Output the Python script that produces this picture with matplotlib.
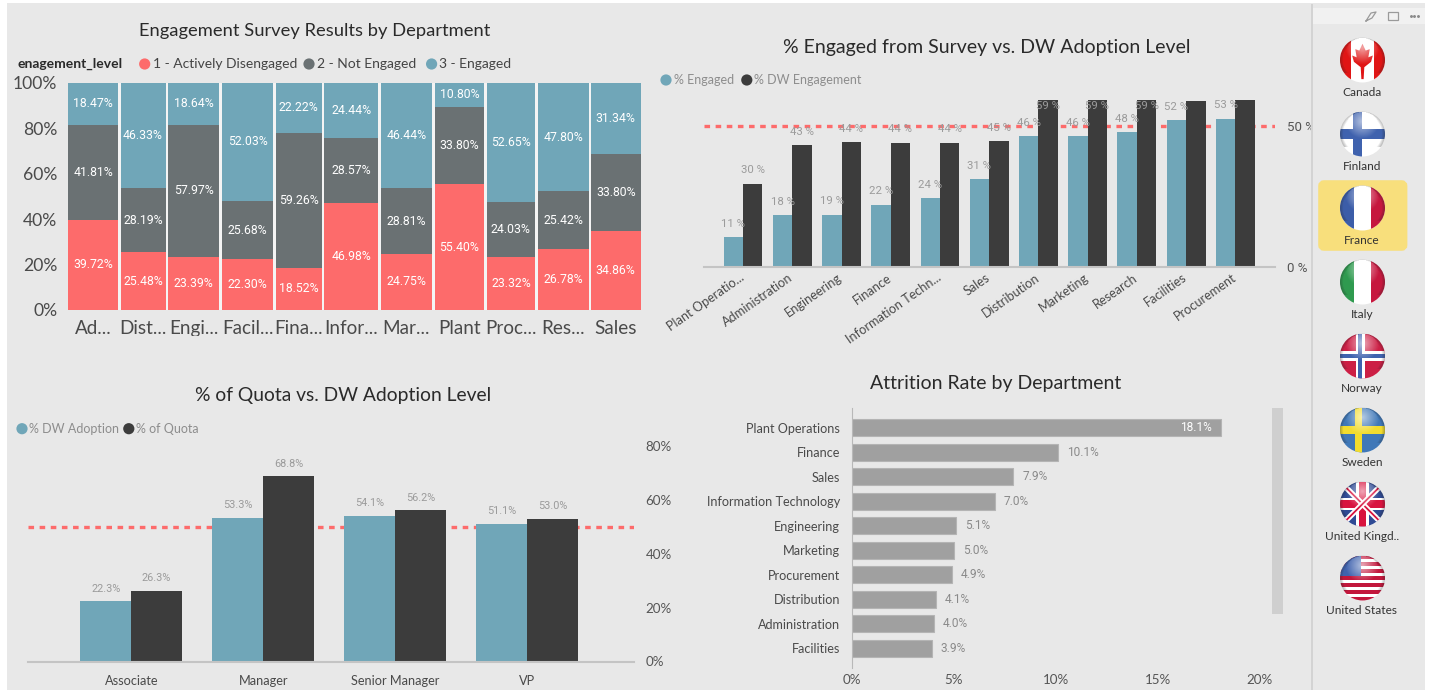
# Engagement / adoption dashboard, four charts plus the country slicer on the right

import numpy as np
import matplotlib
matplotlib.use("Agg")
import matplotlib.pyplot as plt
from matplotlib.patches import Circle, Rectangle, FancyBboxPatch, Polygon
from matplotlib.transforms import ScaledTranslation

W, H = 1429, 690

# Chart 1 data
survey_labels = ["Ad...", "Dist...", "Engi...", "Facil...", "Fina...", "Infor...",
                 "Mar...", "Plant", "Proc...", "Res...", "Sales"]
survey_widths = [49.7, 45.0, 51.5, 51.4, 46.0, 54.2, 51.4, 49.7, 48.5, 51.0, 49.5]
actively_disengaged = [39.72, 25.48, 23.39, 22.30, 18.52, 46.98, 24.75, 55.40, 23.32, 26.78, 34.86]
not_engaged = [41.81, 28.19, 57.97, 25.68, 59.26, 28.57, 28.81, 33.80, 24.03, 25.42, 33.80]
engaged = [18.47, 46.33, 18.64, 52.03, 22.22, 24.44, 46.44, 10.80, 52.65, 47.80, 31.34]

# Chart 2 data
adoption_depts = ["Plant Operatio...", "Administration", "Engineering", "Finance",
                  "Information Techn...", "Sales", "Distribution", "Marketing",
                  "Research", "Facilities", "Procurement"]
pct_engaged = [10.8, 18.47, 18.64, 22.22, 24.44, 31.34, 46.33, 46.44, 47.8, 52.03, 52.65]
pct_dw_engagement = [29.6, 43.2, 44.4, 44.1, 44.1, 44.6, 59.2, 59.2, 59.2, 58.7, 59.7]

# Chart 3 data
levels = ["Associate", "Manager", "Senior Manager", "VP"]
dw_adoption = [22.3, 53.3, 54.1, 51.1]
pct_quota = [26.3, 68.8, 56.2, 53.0]

# Chart 4 data
attrition_depts = ["Plant Operations", "Finance", "Sales", "Information Technology",
                   "Engineering", "Marketing", "Procurement", "Distribution",
                   "Administration", "Facilities"]
attrition = [18.1, 10.1, 7.9, 7.0, 5.1, 5.0, 4.9, 4.1, 4.0, 3.9]

countries = ["Canada", "Finland", "France", "Italy", "Norway", "Sweden",
             "United Kingd..", "United States"]

BG = "#e8e8e8"
RED = "#fd6b6b"
SLATE = "#6a7173"
TEAL = "#70a6b8"
DARK = "#3c3c3c"
GRAY = "#a0a0a0"
LABEL = "#9b9b9b"
TITLE_FONT = ["Lato", "DejaVu Sans"]
NUM_FONT = ["Roboto", "DejaVu Sans"]

plt.rcParams["font.family"] = TITLE_FONT

fig = plt.figure(figsize=(W / 100, H / 100), dpi=100, facecolor="white")


def px_axes(left, top, right, bottom, **kw):
    # axes placed by pixel edges, origin at top left of the image
    ax = fig.add_axes([left / W, 1 - bottom / H, (right - left) / W, (bottom - top) / H], **kw)
    ax.patch.set_alpha(0)
    for s in ax.spines.values():
        s.set_visible(False)
    return ax


# Background panel
back = px_axes(0, 0, W, H)
back.set_xlim(0, W)
back.set_ylim(H, 0)
back.axis("off")
back.add_patch(Rectangle((7, 3), 1418, 687, fc=BG, ec="none"))


# Chart 1, stacked columns with varying widths
ax1 = px_axes(68.4, 82.7, 640.5, 310)
gap = 2.4
edges = np.concatenate([[0], np.cumsum(np.array(survey_widths) + gap)[:-1]])
total = edges[-1] + survey_widths[-1]
ax1.patch.set_alpha(1)
ax1.patch.set_facecolor("#f4f4f4")
bottom = np.zeros(len(edges))
for vals, col in [(actively_disengaged, RED), (not_engaged, SLATE), (engaged, TEAL)]:
    ax1.bar(edges, vals, width=survey_widths, bottom=bottom, align="edge", color=col, lw=0)
    for x, w, b, v in zip(edges, survey_widths, bottom, vals):
        ax1.text(x + w / 2, b + v / 2, f"{v:.2f}%", color="white", ha="center", va="center",
                 fontsize=8.8, family=NUM_FONT)
    bottom = bottom + np.array(vals)
ax1.set_xlim(0, total)
ax1.set_ylim(0, 100)
ax1.set_xticks(edges + np.array(survey_widths) / 2, survey_labels)
ax1.set_yticks(range(0, 101, 20), [f"{v}%" for v in range(0, 101, 20)])
ax1.tick_params(length=0, labelcolor="#4a4a4a")
ax1.tick_params(axis="x", pad=7, labelsize=13.6)
ax1.tick_params(axis="y", pad=8, labelsize=12.6)

# Chart 2, engaged vs DW engagement
ax2 = px_axes(703.9, 100, 1275, 267.3)
y2 = np.arange(len(adoption_depts))
bw = 0.395
ax2.axhline(50, color=RED, ls=(0, (1.67, 1.67)), lw=2.4, zorder=1)
ax2.bar(y2 - bw / 2, pct_engaged, bw, color=TEAL, zorder=2)
ax2.bar(y2 + bw / 2, pct_dw_engagement, bw, color=DARK, zorder=2)
ax2.set_xlim(-0.795, 10.805)
ax2.set_ylim(0, 59.2)
for x, v in zip(y2 - bw / 2, pct_engaged):
    ax2.annotate(f"{v:.0f} %", (x, v), xytext=(0, 9.5), textcoords="offset points", ha="center",
                 va="center", color=LABEL, fontsize=8.2, family=NUM_FONT, zorder=5,
                 annotation_clip=False)
for x, v in zip(y2 + bw / 2, pct_dw_engagement):
    if v > 58.5:
        # no room above the tallest bars, the labels sink into them
        if x < 9:
            ax2.text(x, 57.2, f"{v:.0f} %", ha="center", va="center", color=LABEL, fontsize=8.2,
                     family=NUM_FONT, zorder=5)
        continue
    ax2.annotate(f"{v:.0f} %", (x, v), xytext=(0, 9.5), textcoords="offset points", ha="center",
                 va="center", color=LABEL, fontsize=8.2, family=NUM_FONT, zorder=5)
ax2.set_xticks(y2, adoption_depts, rotation=35, ha="right", va="top", rotation_mode="anchor",
               fontsize=9.2, color="#4a4a4a")
ax2.tick_params(axis="x", length=0, pad=3)
shift = ScaledTranslation(-4 / 100, 0, fig.dpi_scale_trans)
for lab in ax2.get_xticklabels():
    lab.set_transform(lab.get_transform() + shift)
ax2.yaxis.tick_right()
ax2.set_yticks([0, 50], ["0 %", "50 %"], family=NUM_FONT, fontsize=9.5, color="#555555")
ax2.tick_params(axis="y", length=0, pad=8.5)
ax2.spines["bottom"].set_visible(True)
ax2.spines["bottom"].set_color("#c4c4c4")
ax2.spines["bottom"].set_linewidth(1.5)

# Chart 3, DW adoption vs quota
ax3 = px_axes(28, 446, 634.4, 661.5)
y3 = np.arange(len(levels))
bw3 = 0.385
ax3.axhline(50, color=RED, ls=(0, (1.67, 1.67)), lw=2.4, zorder=1)
ax3.bar(y3 - bw3 / 2, dw_adoption, bw3, color=TEAL, zorder=2)
ax3.bar(y3 + bw3 / 2, pct_quota, bw3, color=DARK, zorder=2)
for x, v in zip(np.concatenate([y3 - bw3 / 2, y3 + bw3 / 2]), dw_adoption + pct_quota):
    ax3.annotate(f"{v:.1f}%", (x, v), xytext=(0, 9), textcoords="offset points", ha="center",
                 va="center", color=LABEL, fontsize=7.8, family=NUM_FONT)
ax3.set_xlim(-0.782, 3.812)
ax3.set_ylim(0, 80)
ax3.set_xticks(y3, levels, fontsize=9.2, color="#4a4a4a")
ax3.tick_params(axis="x", length=0, pad=10)
ax3.yaxis.tick_right()
ax3.set_yticks(range(0, 81, 20), [f"{v}%" for v in range(0, 81, 20)], fontsize=9.6, color="#555555")
ax3.tick_params(axis="y", length=0, pad=8)
ax3.spines["bottom"].set_visible(True)
ax3.spines["bottom"].set_color("#c4c4c4")
ax3.spines["bottom"].set_linewidth(1.5)

# Chart 4, attrition
ax4 = px_axes(852, 408, 1259.8, 668)
rows = np.arange(len(attrition_depts))
ax4.barh(rows, attrition, height=0.7, color=GRAY, edgecolor="#b4b4b4", linewidth=0.8)
ax4.set_ylim(rows[-1] + 0.8, -0.8)
ax4.set_xlim(0, 20)
for r, v in zip(rows, attrition):
    if v > 15:
        ax4.annotate(f"{v}%", (v, r), xytext=(-6.5, 0), textcoords="offset points", ha="right",
                     va="center", color="white", fontsize=8.6, family=NUM_FONT)
    else:
        ax4.annotate(f"{v}%", (v, r), xytext=(6.5, 0), textcoords="offset points", ha="left",
                     va="center", color="#8a8a8a", fontsize=8.6, family=NUM_FONT)
ax4.set_yticks(rows, attrition_depts, fontsize=9.1, color="#4a4a4a")
ax4.set_xticks(range(0, 21, 5), [f"{v}%" for v in range(0, 21, 5)], fontsize=9.6, color="#555555")
ax4.tick_params(length=0)
ax4.tick_params(axis="y", pad=8.5)
ax4.tick_params(axis="x", pad=4)
ax4.spines["left"].set_visible(True)
ax4.spines["left"].set_color("#b8b8b8")


# Everything else goes on a pixel overlay
top = px_axes(0, 0, W, H, zorder=10)
top.set_xlim(0, W)
top.set_ylim(H, 0)
top.axis("off")

# cuts off the descenders of chart 1's tick labels like the original crop
top.add_patch(Rectangle((60, 336), 590, 10, fc=BG, ec="none"))

for txt, x, y, size in [("Engagement Survey Results by Department", 315, 31, 13.2),
                        ("% Engaged from Survey vs. DW Adoption Level", 987, 48, 14),
                        ("% of Quota vs. DW Adoption Level", 343, 396, 13.9),
                        ("Attrition Rate by Department", 996, 383, 14)]:
    top.text(x, y, txt, ha="center", va="center", fontsize=size, color="#2a2a2a")

top.text(18, 64, "enagement_level", ha="left", va="center", fontsize=10, fontweight="bold",
         color="#2a2a2a")


def legend_item(x, y, col, txt, tx, color="#444444", size=10):
    top.add_patch(Circle((x, y), 5.6, fc=col, ec="none"))
    top.text(tx, y, txt, ha="left", va="center", fontsize=size, color=color)


legend_item(144.7, 64, RED, "1 - Actively Disengaged", 152.6)
legend_item(309, 64, SLATE, "2 - Not Engaged", 316.8)
legend_item(431.6, 64, TEAL, "3 - Engaged", 438.6)
legend_item(666, 80, TEAL, "% Engaged", 673.6, "#8d8d8d", 9)
legend_item(746.8, 80, DARK, "% DW Engagement", 754, "#8d8d8d", 9)
legend_item(22, 428.7, TEAL, "% DW Adoption", 29.5, "#8d8d8d", 9)
legend_item(128.8, 428.7, DARK, "% of Quota", 135.7, "#8d8d8d", 9)

# Scroll bar of the attrition chart
top.add_patch(Rectangle((1272, 408), 11.5, 205.7, fc="#cfcfcf", ec="none"))

# Slicer panel
top.add_patch(Rectangle((1312, 4), 113, 686, fc="#e8e8e8", ec="none"))
top.add_patch(Rectangle((1311.5, 4), 1.6, 686, fc="#d3d3d3", ec="none"))
top.add_patch(Rectangle((1313, 8), 112, 16, fc="#f1f1f1", ec="none"))
top.add_patch(FancyBboxPatch((1321, 183), 83.6, 65, boxstyle="round,pad=0,rounding_size=3",
                             fc="#f8df7c", ec="#f8df7c", lw=4))
# header icons: pin, focus, more
top.plot([1366, 1371, 1376, 1372, 1366], [21, 13, 12, 18, 21], color="#9a9a9a", lw=0.9)
top.add_patch(Rectangle((1388, 12), 10, 8, fc="none", ec="#9a9a9a", lw=0.9))
top.plot([1411, 1414.5, 1418], [16, 16, 16], ls="none", marker="o", ms=1.1, color="#8a8a8a")


def add_shape(shapes, patch):
    top.add_patch(patch)
    shapes.append(patch)


def draw_flag(name, cx, cy, r=22.5):
    disc = Circle((cx, cy), r, fc="white", ec="none")
    top.add_patch(disc)
    shapes = []

    def bar(x0, y0, x1, y1, col):
        add_shape(shapes, Rectangle((cx + x0 * r, cy + y0 * r), (x1 - x0) * r, (y1 - y0) * r,
                                    fc=col, ec="none"))

    if name == "Canada":
        bar(-1, -1, -0.5, 1, "#e01515")
        bar(0.5, -1, 1, 1, "#e01515")
        leaf = [(0, -0.72), (0.14, -0.42), (0.32, -0.48), (0.26, -0.12), (0.46, -0.2), (0.38, 0.08),
                (0.08, 0.32), (0.05, 0.85), (-0.05, 0.85), (-0.08, 0.32), (-0.38, 0.08),
                (-0.46, -0.2), (-0.26, -0.12), (-0.32, -0.48), (-0.14, -0.42)]
        add_shape(shapes, Polygon([(cx + a * r, cy + b * r) for a, b in leaf], fc="#e01515", ec="none"))
    elif name == "Finland":
        bar(-0.42, -1, -0.02, 1, "#3f62ae")
        bar(-1, -0.22, 1, 0.22, "#3f62ae")
    elif name == "France":
        bar(-1, -1, -0.36, 1, "#3c5da8")
        bar(0.36, -1, 1, 1, "#c6173e")
    elif name == "Italy":
        bar(-1, -1, -0.36, 1, "#2f9a4f")
        bar(0.36, -1, 1, 1, "#c6173e")
    elif name == "Norway":
        bar(-1, -1, 1, 1, "#cc1f45")
        bar(-0.3, -1, 0.1, 1, "white")
        bar(-1, -0.22, 1, 0.22, "white")
        bar(-0.18, -1, -0.02, 1, "#3f62ae")
        bar(-1, -0.11, 1, 0.11, "#3f62ae")
    elif name == "Sweden":
        bar(-1, -1, 1, 1, "#3f78b8")
        bar(-0.32, -1, -0.04, 1, "#f2dc2e")
        bar(-1, -0.18, 1, 0.18, "#f2dc2e")
    elif name.startswith("United K"):
        bar(-1, -1, 1, 1, "#2f4a94")
        for sign in (1, -1):
            white_line = top.plot([cx - r, cx + r], [cy - sign * r, cy + sign * r], color="white", lw=4)[0]
            shapes.append(white_line)
            red_line = top.plot([cx - r, cx + r], [cy - sign * r, cy + sign * r], color="#d8143f", lw=1.3)[0]
            shapes.append(red_line)
        bar(-0.28, -1, 0.28, 1, "white")
        bar(-1, -0.28, 1, 0.28, "white")
        bar(-0.16, -1, 0.16, 1, "#d8143f")
        bar(-1, -0.17, 1, 0.17, "#d8143f")
    else:
        for i in range(7):
            y0 = -1 + i * 2 / 6.5
            bar(-1, y0, 1, y0 + 1 / 6.5, "#c2173c")
        bar(-1, -1, -0.05, -0.1, "#3f62ae")

    for s in shapes:
        s.set_clip_path(disc)

    # glass highlight and dark rim
    n = 60
    gy, gx = np.mgrid[-1:1:n * 1j, -1:1:n * 1j]
    dist = np.hypot(gx, gy)
    shade = np.zeros((n, n, 4))
    gloss = np.clip(0.62 - 0.8 * np.hypot(gx, gy + 0.55), 0, 0.62)
    rim = np.clip((dist - 0.86) / 0.14, 0, 1) * 0.3 * (gy < 0.6)
    shade[..., :3] = np.where(rim[..., None] > gloss[..., None], 0.15, 1.0)
    shade[..., 3] = np.maximum(gloss, rim)
    im = top.imshow(shade, extent=(cx - r, cx + r, cy + r, cy - r), aspect="auto", zorder=3)
    im.set_clip_path(disc)


flag_top = 60
flag_step = 74
for i, name in enumerate(countries):
    cy = flag_top + i * flag_step
    draw_flag(name, 1362.5, cy)
    top.text(1362, cy + 33, name, ha="center", va="center", fontsize=8.6, color="#333333",
             zorder=4)

top.set_xlim(0, W)
top.set_ylim(H, 0)

fig.savefig("out.png", dpi=100, facecolor="white")
